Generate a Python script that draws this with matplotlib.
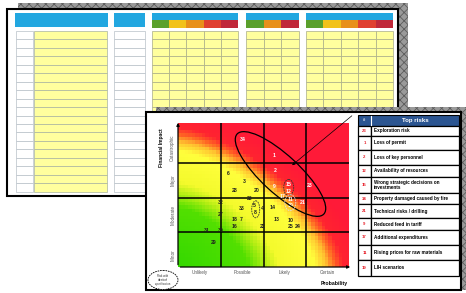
import matplotlib
matplotlib.use('Agg')
import matplotlib.pyplot as plt
from matplotlib.patches import Rectangle, Ellipse
from matplotlib.colors import LinearSegmentedColormap
import numpy as np

plt.rcParams['font.family'] = ['Liberation Sans', 'DejaVu Sans']
plt.rcParams['hatch.linewidth'] = 0.6

# risk matrix axes
prob_labels = ['Unlikely', 'Possible', 'Likely', 'Certain']
impact_labels = ['Minor', 'Moderate', 'Major', 'Catastrophic']

# risks placed on the matrix (probability, impact in cell units)
risk_ids = ['34', '1', '2', '6', '3', '28', '20', '9', '15', '12', '23',
            '26', '17', '11', '19', '21', '32', '33', '5', '8', '4', '14',
            '27', '18', '7', '16', '13', '10', '25', '24', '22', '31', '30', '29']
risk_prob = [1.51, 2.26, 2.28, 1.18, 1.54, 1.33, 1.84, 2.25, 2.59, 2.59, 3.09,
             1.67, 2.44, 2.62, 2.62, 2.92, 1.00, 1.50, 1.79, 1.80, 1.97, 2.21,
             1.00, 1.32, 1.48, 1.33, 2.31, 2.64, 2.63, 2.79, 1.97, 0.67, 1.00, 0.84]
risk_impact = [3.68, 3.20, 2.78, 2.70, 2.45, 2.20, 2.21, 2.31, 2.39, 2.19, 2.34,
               1.97, 2.04, 1.95, 1.76, 1.87, 1.87, 1.68, 1.77, 1.56, 1.69, 1.71,
               1.51, 1.37, 1.37, 1.18, 1.37, 1.35, 1.18, 1.18, 1.18, 1.04, 1.04, 0.70]
white_ids = ['34', '1', '2', '9', '15', '12', '23', '17', '11', '19', '21']

# top risks table
top_ids = ['23', '1', '2', '12', '15', '34', '21', '9', '17', '11', '19']
top_names = ['Exploration risk', 'Loss of permit', 'Loss of key personnel',
             'Availability of resources', 'Wrong strategic decisions on\ninvestments',
             'Property damaged caused by fire', 'Technical risks / drilling',
             'Reduced feed in tariff', 'Additional expenditures',
             'Rising prices for raw materials', 'LIH scenarios']

W, H = 466, 293
fig = plt.figure(figsize=(W / 100, H / 100), dpi=100)

bg = fig.add_axes([0, 0, 1, 1])
bg.set_xlim(0, W)
bg.set_ylim(H, 0)
bg.axis('off')
bg.set_zorder(1)


def checker(ax, x, y, w, h):
    ax.add_patch(Rectangle((x, y), w, h, facecolor='#9a9a9a', edgecolor='#5c5c5c',
                           hatch='xxxx', lw=0))


def box(ax, x, y, w, h, fc, ec='none', lw=0.5):
    ax.add_patch(Rectangle((x, y), w, h, facecolor=fc, edgecolor=ec, lw=lw))


# ---- background spreadsheet ----
checker(bg, 18, 3, 390, 6)
checker(bg, 398, 3, 10, 200)
box(bg, 7, 9, 391, 187, 'white', 'black', 1.5)

blue = '#22a7e0'
band5 = ['#5aa02c', '#f2c21a', '#e8901a', '#e04030', '#c0283a']
band3 = ['#5aa02c', '#e8901a', '#c0283a']
box(bg, 15, 13, 93, 14, blue)
box(bg, 114, 13, 31, 14, blue)
groups = [(152, 86, band5), (246, 53, band3), (306, 87, band5)]
for gx, gw, band in groups:
    box(bg, gx, 13, gw, 7, blue)
    cw = gw / len(band)
    for k, c in enumerate(band):
        box(bg, gx + k * cw, 20, cw, 7.5, c)

y0, step, nrows = 31, 8.45, 19
for r in range(nrows):
    y = y0 + r * step
    box(bg, 16, y, 17, step, 'white', '#b8c0c8', 0.5)
    box(bg, 34, y, 73, step, '#ffff9e', '#a8b4a0', 0.5)
    box(bg, 114, y, 31, step, 'white', '#b8c0c8', 0.5)
    for gx, gw, band in groups:
        cw = gw / len(band)
        for k in range(len(band)):
            box(bg, gx + k * cw, y, cw, step, '#ffff9e', '#a8ac88', 0.5)

# ---- foreground panel ----
checker(bg, 156, 107, 310, 5)
checker(bg, 461, 107, 5, 183)
box(bg, 146, 112, 315, 178, 'white', 'black', 1.5)

# ---- heat map ----
ax = fig.add_axes([178 / W, (H - 267) / H, 171 / W, 144 / H])
ax.set_zorder(2)
nx, ny = 50, 42
U, V = np.meshgrid((np.arange(nx) + 0.5) / nx, (np.arange(ny) + 0.5) / ny)
R = (U ** 1.5 + V ** 1.5) ** (1 / 1.5)
stops = [(0.0, '#34d800'), (0.41, '#52e000'), (0.51, '#b4ee14'), (0.59, '#f4fa2c'),
         (0.8, '#ffff3c'), (0.87, '#ffc030'), (0.92, '#ff6424'), (0.97, '#ff2430'),
         (1.1, '#ff1a38')]
cmap = LinearSegmentedColormap.from_list('risk', [(s / 1.1, c) for s, c in stops])
ax.imshow(R, origin='lower', extent=(0, 4, 0, 4.15), cmap=cmap, vmin=0, vmax=1.1,
          aspect='auto', interpolation='nearest', zorder=0)
for k in (1, 2, 3):
    ax.plot([k, k], [0, 4.15], color='black', lw=1.1, zorder=3)
    ax.plot([0, 4], [k, k], color='black', lw=1.1, zorder=3)

for rid, px, py in zip(risk_ids, risk_prob, risk_impact):
    col = 'white' if rid in white_ids else '#1e1e1e'
    ax.text(px, py, rid, ha='center', va='center', fontsize=3.7,
            fontweight='bold', color=col, zorder=4)

ax.set_xlim(0, 4)
ax.set_ylim(0, 4.15)
ax.set_xticks([0.5, 1.5, 2.5, 3.5], prob_labels, fontsize=3.3, color='#555555')
ax.set_yticks([0.35, 1.5, 2.5, 3.45], impact_labels, fontsize=3.3, color='#555555',
              rotation=90, va='center')
ax.tick_params(length=0, pad=2)
for s in ax.spines.values():
    s.set_visible(False)

# ---- overlay ----
top = fig.add_axes([0, 0, 1, 1])
top.set_xlim(0, W)
top.set_ylim(H, 0)
top.axis('off')
top.patch.set_alpha(0)
top.set_zorder(3)

top.annotate('', xy=(178, 120), xytext=(178, 267.5),
             arrowprops=dict(arrowstyle='-|>', lw=0.9, color='black', mutation_scale=4))
top.annotate('', xy=(353, 267), xytext=(177.5, 267),
             arrowprops=dict(arrowstyle='-|>', lw=0.9, color='black', mutation_scale=4))
top.text(161, 148, 'Financial Impact', rotation=90, ha='center', va='center',
         fontsize=3.5, fontweight='bold')
top.text(334, 283, 'Probability', ha='center', va='center', fontsize=3.7,
         fontweight='bold')

top.add_patch(Ellipse((280.5, 174), 118, 38, angle=42.7, fill=False,
                      ec='black', lw=0.9))
top.add_patch(Ellipse((288.7, 187.5), 10, 16, fill=False, ec='#333333', lw=0.6,
                      ls=(0, (2, 1))))
top.add_patch(Ellipse((290.3, 202.7), 11, 16, fill=False, ec='#dddddd', lw=0.6,
                      ls=(0, (2, 1))))
top.add_patch(Ellipse((255.7, 209.3), 8, 17, fill=False, ec='#333333', lw=0.6,
                      ls=(0, (2, 1))))
top.annotate('', xy=(290, 167), xytext=(354, 114),
             arrowprops=dict(arrowstyle='-|>', lw=0.5, color='black', mutation_scale=4))

top.add_patch(Ellipse((163, 280), 30, 19, facecolor='white', ec='black', lw=0.6,
                      ls=(0, (2, 1))))
top.text(163, 280, 'Risk with\nidentical\nquantification', ha='center', va='center',
         fontsize=2, linespacing=1.0, color='#333333')

# table
box(top, 358, 115, 101, 10.7, '#2b5591', 'black', 0.8)
top.plot([371, 371], [115.5, 125.2], color='white', lw=0.8)
top.text(364.5, 120.3, '#', ha='center', va='center', fontsize=3, color='white',
         fontweight='bold')
top.text(415, 120.3, 'Top risks', ha='center', va='center', fontsize=4.4,
         color='white', fontweight='bold')
bounds = [125.7, 135.7, 150, 165, 176.7, 193.3, 204.3, 218.3, 230, 245, 260, 275.7]
for i, (rid, name) in enumerate(zip(top_ids, top_names)):
    ya, yb = bounds[i], bounds[i + 1]
    box(top, 358, ya, 13, yb - ya, 'white', 'black', 0.9)
    box(top, 371, ya, 88, yb - ya, 'white', 'black', 0.9)
    mid = (ya + yb) / 2
    top.text(364.5, mid, rid, ha='center', va='center', fontsize=3.1,
             color='#e8202a', fontweight='bold')
    top.text(374, mid, name, ha='left', va='center', fontsize=3.3,
             fontweight='bold', linespacing=1.0)

fig.savefig('out.png', dpi=100)
